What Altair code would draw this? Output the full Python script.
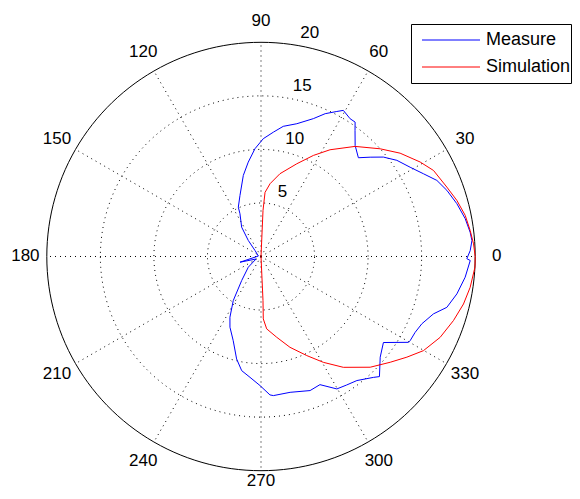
import altair as alt
import pandas as pd

# ---------------- data (angles in degrees, radius in plot units) ----------------
measure_theta = [1.6, 4.3, 6.6, 10.5, 15.1, 19.6, 23.4, 27.0, 30.9, 35.3, 39.1, 42.3, 45.4, 49.7, 53.3,
                 55.0, 57.1, 60.6, 62.4, 65.8, 69.2, 74.9, 80.3, 84.3, 88.9, 93.2, 97.7, 102.3, 109.0,
                 114.7, 116.2, 123.4, 128.4, 135.0, 170.0, 195.2, 206.6, 220.1, 231.2, 237.8, 242.9,
                 246.3, 251.7, 256.6, 260.4, 264.8, 269.6, 273.7, 275.1, 282.1, 290.1, 294.7, 299.8,
                 303.7, 307.7, 312.9, 314.6, 319.8, 324.9, 329.8, 330.6, 333.8, 337.3, 341.6, 344.7,
                 349.2, 354.2, 358.9, 359.4]
measure_r = [19.54, 19.75, 19.66, 19.39, 18.94, 18.42, 17.89, 17.02, 16.23, 15.54, 14.72, 13.78, 12.95,
             13.59, 14.69, 15.32, 15.32, 15.66, 15.28, 14.62, 13.77, 12.84, 12.33, 11.67, 11.0, 10.08,
             8.89, 7.75, 6.03, 5.07, 4.45, 3.28, 1.91, 0.79, 0.25, 2.03, 0.52, 1.55, 2.88, 4.86, 6.37,
             7.21, 8.27, 9.83, 10.81, 11.33, 12.06, 12.95, 13.04, 12.97, 13.33, 13.17, 14.25, 14.42,
             14.64, 15.41, 15.75, 14.57, 13.97, 15.93, 15.99, 16.04, 16.28, 16.97, 17.99, 18.62, 19.16,
             19.54, 19.22]

sim_theta = [0.0, 3.4, 7.1, 11.4, 16.0, 20.5, 26.5, 30.7, 36.6, 42.1, 49.5, 57.1, 62.6, 68.9, 77.1,
             82.9, 86.4, 87.5, 90.0, 180.0, 270.0, 272.6, 272.1, 274.5, 281.0, 287.7, 294.8, 300.5,
             306.6, 314.6, 320.7, 325.4, 329.9, 335.7, 341.6, 346.8, 351.6, 357.1]
sim_r = [20.0, 19.88, 19.68, 19.45, 19.02, 18.52, 18.0, 17.28, 16.18, 15.0, 13.52, 11.87, 10.63, 9.28,
         7.93, 6.85, 6.0, 4.3, 0.0, 0.0, 0.0, 4.1, 5.83, 6.78, 7.68, 8.9, 10.19, 11.47, 12.89, 14.52,
         15.59, 16.55, 17.53, 18.35, 18.94, 19.42, 19.74, 20.0]

series_names = ["Measure", "Simulation"]
series_colors = ["#0000ff", "#ff0000"]

angle_ticks = [0, 30, 60, 90, 120, 150, 180, 210, 240, 270, 300, 330]
ring_values = [5, 10, 15]
ring_labels = [5, 10, 15, 20]
r_max = 20

# ---------------- tables ----------------
rows = []
for name, th, rr in [("Measure", measure_theta, measure_r), ("Simulation", sim_theta, sim_r)]:
    pts = list(zip(th, rr)) + [(th[0], rr[0])]
    for i, (t, r) in enumerate(pts):
        rows.append({"series": name, "theta": t, "r": r, "idx": i})
curves_df = pd.DataFrame(rows)

FONT = "Liberation Sans"
W, H = 564, 483
xscale = alt.Scale(domain=[-23.623, 29.038], nice=False, zero=False)
yscale = alt.Scale(domain=[-21.896, 23.203], nice=False, zero=False)


def X(f):
    return alt.X(f, type="quantitative", scale=xscale, axis=None)


def Y(f):
    return alt.Y(f, type="quantitative", scale=yscale, axis=None)


# dotted rings
rings = alt.Chart(pd.DataFrame({"ring": ring_values})).transform_calculate(
    a="sequence(0, 362, 2)"
).transform_flatten(["a"]).transform_calculate(
    x="datum.ring*cos(datum.a*PI/180)", y="datum.ring*sin(datum.a*PI/180)"
).mark_line(color="black", strokeWidth=1, strokeDash=[1, 4]).encode(
    x=X("x"), y=Y("y"), detail="ring:N", order="a:Q"
)

# solid outer circle
outer = alt.Chart(pd.DataFrame({"ring": [r_max]})).transform_calculate(
    a="sequence(0, 362, 2)"
).transform_flatten(["a"]).transform_calculate(
    x="datum.ring*cos(datum.a*PI/180)", y="datum.ring*sin(datum.a*PI/180)"
).mark_line(color="black", strokeWidth=1).encode(
    x=X("x"), y=Y("y"), detail="ring:N", order="a:Q"
)

# dotted spokes
spokes = alt.Chart(pd.DataFrame({"a": angle_ticks})).transform_calculate(
    x0="0", y0="0",
    x1=f"{r_max}*cos(datum.a*PI/180)", y1=f"{r_max}*sin(datum.a*PI/180)"
).mark_rule(color="black", strokeWidth=1, strokeDash=[1, 4]).encode(
    x=X("x0"), y=Y("y0"), x2="x1:Q", y2="y1:Q"
)

# angle labels
angle_base = alt.Chart(pd.DataFrame({"a": angle_ticks})).transform_calculate(
    x=f"{r_max}*1.1*cos(datum.a*PI/180)", y=f"{r_max}*1.1*sin(datum.a*PI/180)",
    lab="toString(datum.a)"
)
angle_text = angle_base.transform_filter("datum.a != 270").mark_text(
    font=FONT, fontSize=17, color="black", align="center", baseline="middle"
).encode(x=X("x"), y=Y("y"), text="lab:N")
# bottom label kept inside the drawing area
angle_text_bottom = angle_base.transform_filter("datum.a == 270").mark_text(
    font=FONT, fontSize=17, color="black", align="center", baseline="bottom", dy=-2
).encode(x=X("x"), y=Y("y"), text="lab:N")

# ring labels along 82 degrees
ring_text = alt.Chart(pd.DataFrame({"ring": ring_labels})).transform_calculate(
    x="(datum.ring+0.25)*cos(82*PI/180)", y="(datum.ring+0.25)*sin(82*PI/180)",
    lab="toString(datum.ring)"
).mark_text(font=FONT, fontSize=17, color="black", align="left", baseline="alphabetic",
            dx=9, dy=-4).encode(
    x=X("x"), y=Y("y"), text="lab:N"
)

# curves
curves = alt.Chart(curves_df).transform_calculate(
    x="datum.r*cos(datum.theta*PI/180)", y="datum.r*sin(datum.theta*PI/180)"
).mark_line(strokeWidth=1).encode(
    x=X("x"), y=Y("y"),
    color=alt.Color("series:N", scale=alt.Scale(domain=series_names, range=series_colors), legend=None),
    order="idx:Q"
)

# legend box (MATLAB style)
one = pd.DataFrame({"k": [0]})
legend_box = alt.Chart(one).mark_rect(fill="white", stroke="black", strokeWidth=1).encode(
    x=alt.value(403.5), x2=alt.value(563.5), y=alt.value(16.5), y2=alt.value(75.5)
)
legend_layers = [legend_box]
for i, (name, col) in enumerate(zip(series_names, series_colors)):
    ly = 32 + 27 * i
    legend_layers.append(
        alt.Chart(one).mark_rule(color=col, strokeWidth=1).encode(
            x=alt.value(414), x2=alt.value(472), y=alt.value(ly)
        )
    )
    legend_layers.append(
        alt.Chart(pd.DataFrame({"label": [name]})).mark_text(
            font=FONT, fontSize=18, color="black", align="left", baseline="middle"
        ).encode(x=alt.value(478), y=alt.value(ly), text="label:N")
    )

chart = alt.layer(rings, spokes, outer, angle_text, angle_text_bottom, ring_text, curves,
                  *legend_layers).properties(
    width=W, height=H, padding=0, autosize=alt.AutoSizeParams(type="none"), background="white"
).configure_view(stroke=None)

chart.save("out.html", embed_options={"renderer": "svg", "actions": False})
